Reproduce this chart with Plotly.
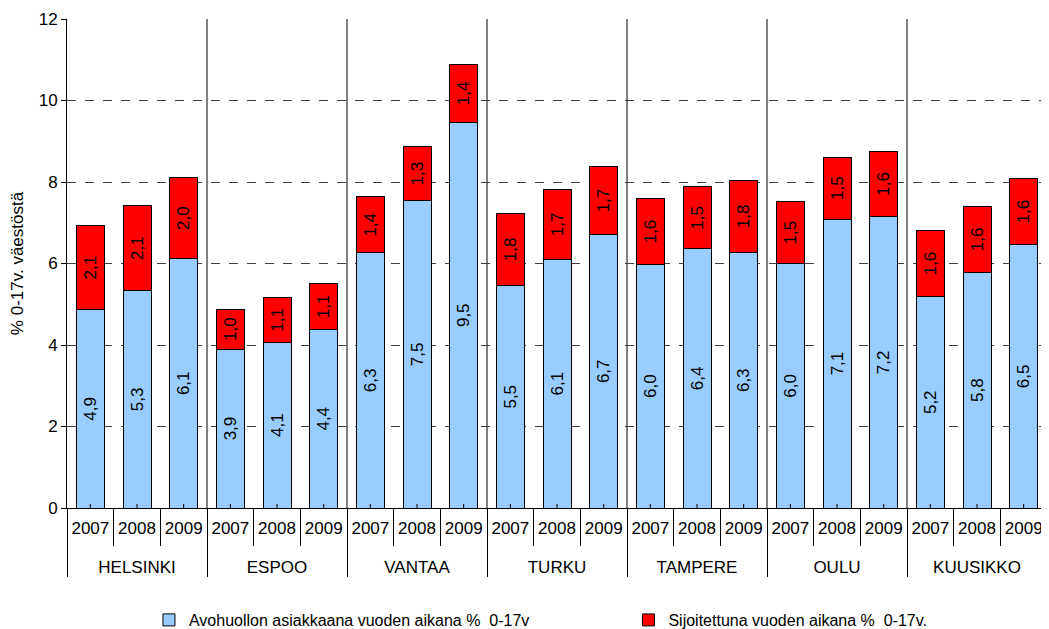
import plotly.graph_objects as go

# kunnat ja vuodet
kunnat = ["HELSINKI", "ESPOO", "VANTAA", "TURKU", "TAMPERE", "OULU", "KUUSIKKO"]
vuodet = ["2007", "2008", "2009"]

# Avohuollon asiakkaana vuoden aikana % 0-17v (kunta x vuosi)
avohuolto = [
    4.86, 5.33, 6.12,   # HELSINKI
    3.90, 4.07, 4.38,   # ESPOO
    6.26, 7.54, 9.46,   # VANTAA
    5.46, 6.10, 6.71,   # TURKU
    5.98, 6.36, 6.27,   # TAMPERE
    5.99, 7.09, 7.15,   # OULU
    5.19, 5.78, 6.46,   # KUUSIKKO
]
# Sijoitettuna vuoden aikana % 0-17v.
sijoitettu = [
    2.08, 2.09, 1.99,
    0.98, 1.09, 1.13,
    1.38, 1.33, 1.43,
    1.77, 1.72, 1.67,
    1.61, 1.52, 1.77,
    1.53, 1.52, 1.61,
    1.62, 1.62, 1.63,
]

FONT = "Liberation Sans, Arial, sans-serif"
SININEN = "#99CCFF"
PUNAINEN = "#FF0000"

# kuntanimen eteen rivinvaihto, jotta ryhmätaso jää vuosien alle väljemmin
x_taso1 = ["<br>" + k for k in kunnat for _ in vuodet]
x_taso2 = [v for _ in kunnat for v in vuodet]
x = [x_taso1, x_taso2]


def fi(v):
    # suomalainen desimaalipilkku
    return f"{v:.1f}".replace(".", ",")


fig = go.Figure()

fig.add_trace(go.Bar(
    x=x, y=avohuolto,
    name="Avohuollon asiakkaana vuoden aikana %  0-17v",
    marker=dict(color=SININEN, line=dict(color="black", width=1)),
    text=[fi(v) for v in avohuolto],
    textposition="inside", insidetextanchor="middle", textangle=-90,
    constraintext="none",
    textfont=dict(family=FONT, size=17, color="black"),
    legend="legend",
))
fig.add_trace(go.Bar(
    x=x, y=sijoitettu,
    name="Sijoitettuna vuoden aikana %  0-17v.",
    marker=dict(color=PUNAINEN, line=dict(color="black", width=1)),
    text=[fi(v) for v in sijoitettu],
    textposition="inside", insidetextanchor="middle", textangle=-90,
    constraintext="none",
    textfont=dict(family=FONT, size=17, color="black"),
    legend="legend2",
))

# pystyviivat kuntien väliin kuva-alueelle
n = len(x_taso2)
for g in range(1, len(kunnat)):
    xp = (3 * g) / n
    fig.add_shape(type="line", xref="paper", yref="y",
                  x0=xp, x1=xp, y0=0, y1=12,
                  line=dict(color="black", width=1), layer="below")

# pienet väkäset pylväiden kohdalle
for i in range(n):
    xp = (i + 0.5) / n
    fig.add_shape(type="line", xref="paper", yref="y",
                  ysizemode="pixel", yanchor=0, y0=-4, y1=4,
                  x0=xp, x1=xp, line=dict(color="black", width=1))

legend_style = dict(
    orientation="h", xref="container", yref="container",
    y=0.0145, yanchor="middle", xanchor="left",
    font=dict(family=FONT, size=16), bgcolor="rgba(0,0,0,0)",
)

# sivun oletusmarginaali (8 px) huomioitu koossa ja marginaaleissa
fig.update_layout(
    barmode="stack",
    bargap=0.4,
    width=1041, height=621,
    margin=dict(l=59, r=2, t=11, b=121),
    plot_bgcolor="white", paper_bgcolor="white",
    font=dict(family=FONT, size=17, color="black"),
    showlegend=True,
    legend=dict(x=0.1354, **legend_style),
    legend2=dict(x=0.596, **legend_style),
)
fig.update_yaxes(
    range=[0, 12], dtick=2,
    showgrid=True, gridcolor="#404040", griddash="dash", gridwidth=1,
    showline=True, linecolor="black", linewidth=1,
    ticks="outside", ticklen=5, tickcolor="black",
    title=dict(text="% 0-17v. väestöstä", font=dict(size=17), standoff=12),
    zeroline=False, automargin=False,
)
fig.update_xaxes(
    type="multicategory",
    showline=True, linecolor="black", linewidth=1,
    ticks="outside", tickson="boundaries", ticklen=37, tickcolor="black",
    showdividers=True, dividercolor="black", dividerwidth=1,
    tickfont=dict(size=17), tickangle=0, ticklabelstandoff=5,
    automargin=False,
)

fig.write_html("out.html")
